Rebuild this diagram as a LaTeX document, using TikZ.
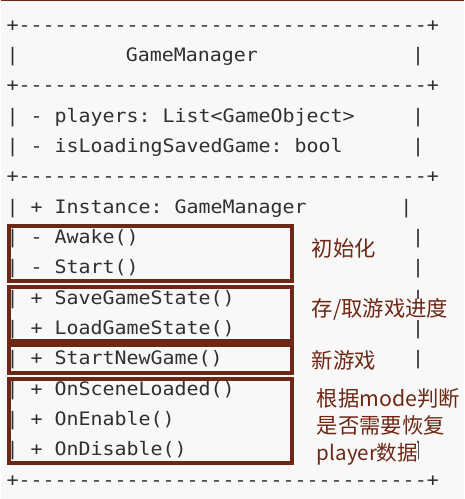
\documentclass[tikz,border=0pt]{standalone}
\usepackage{fontspec}
\setmonofont[FakeStretch=1.076]{DejaVu Sans Mono}
\newfontfamily\notefont{Noto Sans CJK SC}
\usepackage{tikz}
\usetikzlibrary{positioning}
\definecolor{paper}{HTML}{F8F8F8}
\definecolor{inkgray}{HTML}{303030}
\definecolor{boxbrown}{HTML}{6C2814}
\tikzset{asciiline/.style={anchor=base west,inner sep=0,text=inkgray,
        font=\ttfamily\fontsize{13.9pt}{13.9pt}\selectfont\frenchspacing},
    groupbox/.style={draw=boxbrown,line width=3pt},
    notetext/.style={anchor=base west,inner sep=0,fill=paper,text=boxbrown,
        font=\notefont\fontsize{16pt}{20pt}\selectfont}
}
\newcommand{\asciitext}[4]
{
% args: (node name, row, column of the first character, text)
    \pgfmathsetmacro\colx{5.7+11.93*(#3)}
    \pgfmathsetmacro\rowy{31+30.35*(#2)}
    \node (#1) [asciiline] at (\colx,\rowy) {#4};
}
\newcommand{\asciirule}[2]
{
% args: (node name, row)
    \asciitext{#1}{#2}{0}{+\foreach \dashno in {1,...,34}{-}+}
}
\newcommand{\memberrow}[3]
{
% args: (node name, row, text after the left bar)
    \asciitext{#1}{#2}{0}{| #3}
}

\begin{document}
\begin{tikzpicture}[x=0.75pt,y=-0.75pt]

% page
\fill [paper] (0,0) rectangle (463,499);
\draw [boxbrown,line width=1pt] (0,0.6) -- (463,0.6);

%% the class in ascii
\asciirule{ruleTop}{0}
\asciitext{titleL}{1}{0}{|}
\asciitext{title}{1}{10}{GameManager}
\asciitext{titleR}{1}{34}{|}
\asciirule{ruleName}{2}

% fields
\memberrow{players}{3}{- players: List<GameObject>}
\memberrow{loading}{4}{- isLoadingSavedGame: bool}
\asciitext{playersBar}{3}{34}{|}
\asciitext{loadingBar}{4}{34}{|}
\asciirule{ruleFields}{5}

% methods
\memberrow{instance}{6}{+ Instance: GameManager}
\memberrow{awake}{7}{- Awake()}
\memberrow{start}{8}{- Start()}
\memberrow{save}{9}{+ SaveGameState()}
\memberrow{load}{10}{+ LoadGameState()}
\memberrow{newGame}{11}{+ StartNewGame()}
\memberrow{sceneLoaded}{12}{+ OnSceneLoaded()}
\memberrow{enable}{13}{+ OnEnable()}
\memberrow{disable}{14}{+ OnDisable()}
\asciitext{instanceBar}{6}{33}{|}
\foreach \r/\n in {7/awake,8/start,9/save,10/load,11/newGame,14/disable}
    \asciitext{\n Bar}{\r}{34}{|};
\asciirule{ruleBottom}{15}

%% groups of methods
\draw [groupbox] (8.7,226.3) rectangle (291,280.8);
\draw [groupbox] (8.7,286.7) rectangle (291,341);
\draw [groupbox] (8.7,345) rectangle (291,372.5);
\draw [groupbox] (8.7,378.7) rectangle (291,462.8);

% notes
\node (initNote) [notetext] at (311,256) {初始化};
\node (saveNote) [notetext] at (311,316.5) {存/取游戏进度};
\node (newNote) [notetext] at (311,368) {新游戏};
\node (restoreA) [notetext] at (316,406) {根据mode判断};
\node (restoreB) [notetext] at (316,433) {是否需要恢复};
\node (restoreC) [notetext,font=\notefont\fontsize{15.4pt}{20pt}\selectfont] at (316,460) {player数据};

\end{tikzpicture}
\end{document}
